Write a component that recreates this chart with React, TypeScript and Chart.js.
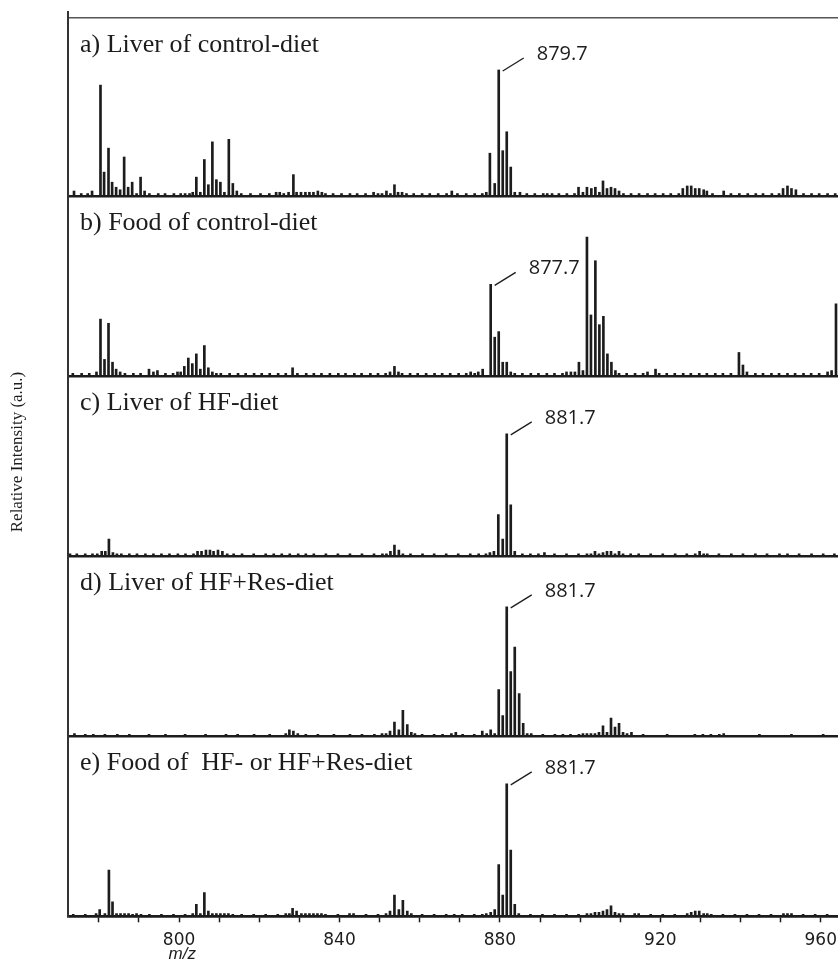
import { useEffect, useRef } from 'react';
import { Chart, registerables } from 'chart.js';
Chart.register(...registerables);

// ---------- data ----------
const panelTitles = [
  'a) Liver of control-diet',
  'b) Food of control-diet',
  'c) Liver of HF-diet',
  'd) Liver of HF+Res-diet',
  'e) Food of  HF- or HF+Res-diet',
];
const peakLabels = ['879.7', '877.7', '881.7', '881.7', '881.7'];
const peakMz = [879.7, 877.7, 881.7, 881.7, 881.7];
const xTickValues = [780, 790, 800, 810, 820, 830, 840, 850, 860, 870, 880, 890, 900, 910, 920, 930, 940, 950, 960];
const xLabelValues = [800, 840, 880, 920, 960];
// axis range per panel (relative intensity, base peak = 100)
const yMax = [146, 129.5, 147.2, 139.2, 136];
// value of the frame line at the top of panel a
const topFrameValue = 141.3;

const liverControl: [number, number][] = [
  [773.8, 4], [775.6, 2], [777.2, 2], [778.3, 4], [780.4, 88], [781.3, 19], [782.4, 38], [783.3, 11], [784.3, 7], [785.3, 5],
  [786.3, 31], [787.3, 7], [788.3, 11], [789.4, 2], [790.4, 15], [791.4, 4], [792.6, 2], [794.8, 2], [796.5, 2], [798.7, 2],
  [800.4, 2], [801.5, 2], [802.6, 2], [803.4, 3], [804.3, 15], [805.3, 3], [806.3, 29], [807.3, 9], [808.3, 43], [809.3, 13],
  [810.3, 11], [811.3, 3], [812.4, 45], [813.4, 10], [814.4, 4], [815.5, 2], [817.8, 2], [820.3, 2], [822.5, 2], [824.2, 3],
  [825.1, 3], [826.1, 2], [827.3, 3], [828.5, 17], [829.3, 3], [830.4, 3], [831.5, 3], [832.5, 3], [833.5, 3], [834.6, 4],
  [835.6, 3], [836.5, 2], [838.4, 2], [840.5, 2], [842.6, 2], [844.4, 2], [846.5, 2], [848.5, 3], [849.6, 2], [850.6, 2],
  [851.7, 4], [852.7, 2], [853.7, 9], [854.6, 3], [855.6, 3], [856.7, 2], [858.5, 2], [860.6, 2], [862.5, 2], [864.6, 2],
  [866.7, 2], [868.0, 4], [869.4, 2], [871.6, 2], [873.7, 2], [875.6, 2], [876.6, 3], [877.5, 34], [878.7, 10], [879.7, 100],
  [880.7, 36], [881.7, 51], [882.7, 23], [883.7, 3], [885.0, 3], [886.7, 2], [888.7, 2], [890.8, 2], [891.8, 2], [893.0, 2],
  [894.7, 2], [896.7, 2], [898.6, 2], [899.6, 7], [900.7, 3], [901.7, 7], [902.8, 6], [903.8, 7], [904.8, 3], [905.7, 12],
  [906.7, 6], [907.7, 7], [908.7, 6], [909.7, 4], [910.8, 2], [912.7, 2], [914.7, 2], [916.8, 2], [918.7, 2], [920.7, 2],
  [922.6, 2], [924.6, 2], [925.6, 6], [926.7, 8], [927.7, 8], [928.7, 6], [929.7, 6], [930.8, 5], [931.6, 4], [933.0, 2],
  [935.8, 4], [937.6, 2], [939.7, 2], [941.8, 2], [943.8, 2], [945.6, 2], [947.8, 2], [949.6, 2], [950.6, 6], [951.7, 8],
  [952.7, 6], [953.8, 5], [955.7, 2], [957.7, 2], [959.6, 2], [961.7, 2], [963.6, 2],
];

const foodControl: [number, number][] = [
  [773.5, 2], [775.7, 2], [777.6, 2], [779.4, 3], [780.4, 41], [781.4, 12], [782.4, 38], [783.4, 10], [784.3, 5], [785.3, 3],
  [786.5, 2], [788.6, 2], [790.4, 2], [792.5, 5], [793.6, 3], [794.6, 4], [796.6, 2], [798.5, 2], [799.6, 3], [800.4, 3],
  [801.3, 7], [802.3, 13], [803.3, 9], [804.3, 16], [805.3, 5], [806.3, 22], [807.3, 6], [808.3, 3], [809.3, 2], [810.4, 2],
  [812.6, 2], [814.7, 2], [816.6, 2], [818.7, 2], [820.6, 2], [822.6, 2], [824.7, 2], [826.6, 2], [828.3, 6], [829.5, 2],
  [831.7, 2], [833.6, 2], [835.5, 2], [837.6, 2], [839.7, 2], [841.5, 2], [843.7, 2], [845.5, 2], [847.7, 2], [849.6, 2],
  [851.5, 2], [852.6, 3], [853.7, 7], [854.7, 3], [855.6, 2], [857.6, 2], [859.5, 2], [861.6, 2], [863.7, 2], [865.6, 2],
  [867.6, 2], [869.7, 2], [871.6, 2], [872.7, 3], [873.7, 2], [874.6, 3], [875.7, 5], [877.7, 66], [878.7, 28], [879.7, 32],
  [880.7, 10], [881.7, 10], [882.7, 3], [883.7, 2], [885.6, 2], [887.7, 2], [889.6, 2], [891.7, 2], [893.6, 2], [895.6, 2],
  [896.6, 3], [897.7, 3], [898.7, 3], [899.7, 10], [900.7, 4], [901.7, 100], [902.7, 44], [903.8, 83], [904.8, 37], [905.8, 43],
  [906.8, 16], [907.8, 10], [908.8, 4], [909.7, 2], [911.6, 2], [913.7, 2], [915.7, 2], [916.8, 3], [918.8, 5], [919.7, 2],
  [921.6, 2], [923.6, 2], [925.7, 2], [927.6, 2], [929.7, 2], [931.6, 2], [933.7, 2], [935.6, 2], [937.6, 2], [939.6, 17],
  [940.6, 8], [941.6, 3], [943.7, 2], [945.6, 2], [947.7, 2], [949.6, 2], [951.7, 2], [953.6, 2], [955.7, 2], [957.6, 2],
  [959.6, 2], [961.7, 3], [962.7, 4], [963.8, 52],
];

const liverHF: [number, number][] = [
  [772.8, 2], [774.5, 2], [776.6, 2], [778.4, 2], [779.6, 2], [780.7, 4], [781.6, 4], [782.5, 14], [783.5, 3], [784.5, 2],
  [785.6, 2], [787.6, 2], [789.5, 2], [791.6, 2], [793.6, 2], [795.6, 2], [797.6, 2], [799.7, 2], [801.6, 2], [803.6, 2],
  [804.6, 4], [805.6, 4], [806.7, 5], [807.7, 5], [808.6, 4], [809.7, 5], [810.8, 4], [812.0, 2], [813.6, 2], [815.7, 2],
  [818.6, 2], [821.6, 2], [823.6, 2], [825.6, 2], [827.6, 2], [829.7, 2], [831.6, 2], [833.6, 2], [836.6, 2], [839.6, 2],
  [842.6, 2], [845.6, 2], [848.6, 2], [850.7, 2], [851.7, 2], [852.7, 4], [853.7, 9], [854.8, 5], [855.8, 2], [857.7, 2],
  [860.7, 2], [863.6, 2], [866.6, 2], [869.6, 2], [872.6, 2], [874.7, 2], [876.5, 2], [877.5, 3], [878.5, 4], [879.6, 34],
  [880.7, 14], [881.7, 100], [882.7, 42], [883.7, 4], [885.6, 2], [887.6, 2], [889.6, 2], [891.1, 3], [893.6, 2], [896.6, 2],
  [899.6, 2], [901.7, 2], [902.7, 2], [903.7, 4], [904.7, 2], [905.7, 3], [906.7, 4], [907.7, 4], [908.7, 2], [909.7, 4],
  [910.7, 2], [912.6, 2], [914.6, 2], [917.6, 2], [920.6, 2], [923.7, 2], [926.6, 2], [928.7, 2], [929.8, 4], [930.8, 2],
  [931.7, 2], [934.6, 2], [937.7, 2], [940.6, 2], [943.7, 2], [946.6, 2], [949.7, 2], [951.7, 2], [954.6, 2], [957.7, 2],
  [960.6, 2], [963.4, 2],
];

const liverHFRes: [number, number][] = [
  [773.9, 2], [776.6, 1.5], [778.6, 1.5], [781.5, 1.5], [784.6, 1.5], [787.6, 1.5], [792.5, 1.5], [796.6, 1.5], [801.5, 1.5], [806.6, 1.5],
  [811.7, 1.5], [814.6, 1.5], [818.7, 1.5], [822.6, 1.5], [826.6, 2], [827.5, 5], [828.5, 4], [829.6, 2], [831.6, 1.5], [834.6, 1.5],
  [838.6, 1.5], [842.6, 1.5], [845.6, 1.5], [848.7, 1.5], [850.6, 2], [851.6, 2], [852.6, 4], [853.7, 11], [854.8, 5], [855.8, 20],
  [856.9, 9], [857.9, 3], [858.8, 2], [860.6, 1.5], [863.6, 1.5], [865.7, 1.5], [867.9, 2], [869.0, 3], [870.7, 1.5], [873.6, 1.5],
  [875.6, 4], [876.7, 2], [877.7, 5], [878.7, 2], [879.7, 36], [880.7, 16], [881.7, 100], [882.7, 50], [883.7, 69], [884.8, 33],
  [885.8, 10], [886.8, 2], [887.8, 2], [890.7, 1.5], [893.7, 1.5], [895.7, 1.5], [897.6, 1.5], [899.7, 1.5], [900.7, 2], [901.7, 2],
  [902.7, 2], [903.7, 2], [904.7, 3], [905.7, 8], [906.7, 3], [907.7, 14], [908.7, 7], [909.7, 10], [910.7, 3], [911.7, 2],
  [912.8, 3], [915.7, 1.5], [921.7, 1.5], [928.6, 1.5], [930.6, 1.5], [932.6, 1.5], [934.7, 1.5], [935.8, 2], [944.7, 1.5], [952.7, 1.5],
  [960.6, 1.5],
];

const foodHF: [number, number][] = [
  [773.6, 1.5], [776.6, 1.5], [779.3, 2], [780.2, 5], [781.5, 2], [782.5, 35], [783.4, 11], [784.4, 2], [785.4, 2], [786.4, 2],
  [787.4, 2], [788.4, 1.5], [789.4, 2], [790.5, 1.5], [792.6, 1.5], [795.6, 1.5], [798.6, 1.5], [801.5, 1.5], [803.4, 2], [804.3, 9],
  [805.3, 2], [806.3, 18], [807.3, 4], [808.3, 2], [809.3, 2], [810.3, 2], [811.3, 2], [812.3, 2], [813.4, 1.5], [815.6, 1.5],
  [818.6, 1.5], [821.6, 1.5], [824.6, 1.5], [826.6, 2], [827.5, 2], [828.3, 6], [829.3, 4], [830.5, 2], [831.5, 2], [832.5, 2],
  [833.5, 2], [834.5, 2], [835.5, 2], [836.5, 1.5], [839.6, 1.5], [842.5, 2], [843.5, 2], [846.6, 1.5], [849.6, 1.5], [851.6, 2],
  [852.6, 4], [853.7, 16], [854.8, 5], [855.8, 12], [856.9, 4], [857.9, 2], [860.6, 1.5], [863.6, 1.5], [866.6, 1.5], [868.6, 1.5],
  [870.6, 1.5], [873.6, 1.5], [875.6, 1.5], [876.6, 2], [877.7, 3], [878.7, 5], [879.7, 39], [880.7, 16], [881.7, 100], [882.7, 50],
  [883.7, 9], [884.7, 2], [887.6, 1.5], [890.6, 1.5], [893.6, 1.5], [896.6, 1.5], [899.6, 1.5], [901.7, 2], [902.7, 2], [903.7, 3],
  [904.7, 3], [905.7, 4], [906.7, 5], [907.7, 8], [908.7, 3], [909.7, 2], [910.7, 2], [913.6, 2], [914.6, 2], [917.6, 1.5],
  [920.6, 1.5], [923.6, 1.5], [926.7, 2], [927.7, 3], [928.7, 4], [929.7, 4], [930.8, 2], [931.7, 2], [932.7, 1.5], [935.6, 1.5],
  [938.6, 1.5], [941.6, 1.5], [944.6, 1.5], [947.6, 1.5], [950.7, 2], [951.7, 2], [952.7, 2], [955.6, 1.5], [958.6, 1.5], [961.6, 1.5],
];

const spectra = [liverControl, foodControl, liverHF, liverHFRes, foodHF];

// ---------- component ----------
export default function App() {
  const canvasRef = useRef<HTMLCanvasElement | null>(null);

  useEffect(() => {
    const canvas = canvasRef.current;
    if (!canvas) return;

    const ink = '#1c1c1c';

    const overlay = {
      id: 'spectraOverlay',
      afterDatasetsDraw(chart: any) {
        const { ctx, chartArea } = chart;
        const xs = chart.scales.x;
        ctx.save();
        spectra.forEach((data, i) => {
          const ys = chart.scales['y' + i];
          const panelTop = i === 0 ? ys.getPixelForValue(topFrameValue) : ys.top;
          ctx.fillStyle = ink;
          ctx.textAlign = 'left';
          ctx.textBaseline = 'alphabetic';
          ctx.font = "26px 'Liberation Serif'";
          ctx.fillText(panelTitles[i], chartArea.left + 12, panelTop + 34);

          const pk = data.find((d) => d[0] === peakMz[i]);
          const v = pk ? pk[1] : 100;
          const px = xs.getPixelForValue(peakMz[i]);
          const py = ys.getPixelForValue(v);
          ctx.strokeStyle = ink;
          ctx.lineWidth = 1.3;
          ctx.beginPath();
          ctx.moveTo(px + 4, py + 1);
          ctx.lineTo(px + 25, py - 12);
          ctx.stroke();
          ctx.font = "20px 'Open Sans'";
          ctx.textBaseline = 'middle';
          ctx.fillText(peakLabels[i], px + 38, py - 16);
        });

        ctx.font = "italic 17px 'Liberation Sans'";
        ctx.textAlign = 'center';
        ctx.textBaseline = 'middle';
        ctx.fillStyle = ink;
        ctx.fillText('m/z', xs.getPixelForValue(800.8), 954);

        ctx.translate(18, 452);
        ctx.rotate(-Math.PI / 2);
        ctx.font = "17px 'Liberation Serif'";
        ctx.fillText('Relative Intensity (a.u.)', 0, 0);
        ctx.restore();
      },
    };

    const scales: any = {
      x: {
        type: 'linear',
        position: 'bottom',
        min: 772.3,
        max: 964.3,
        offset: false,
        afterBuildTicks: (axis: any) => {
          axis.ticks = xTickValues.map((v) => ({ value: v }));
        },
        ticks: {
          autoSkip: false,
          maxRotation: 0,
          padding: 0,
          color: ink,
          font: { family: 'DejaVu Sans', size: 17, lineHeight: 2.1 },
          callback: (v: any) => (xLabelValues.includes(Number(v)) ? String(v) : ''),
        },
        grid: {
          display: true,
          offset: false,
          drawOnChartArea: false,
          drawTicks: true,
          tickLength: 6,
          tickWidth: 1.5,
          tickColor: ink,
        },
        border: { display: true, color: ink, width: 2.5 },
      },
    };

    // stacked left axes: the last one defined is placed on top, so define bottom panel first
    for (let i = spectra.length - 1; i >= 0; i--) {
      const frameTop = i === 0 ? topFrameValue : yMax[i];
      scales['y' + i] = {
        type: 'linear',
        position: 'left',
        stack: 'spectra',
        stackWeight: i === 0 ? 184 : 180,
        min: 0,
        max: yMax[i],
        afterBuildTicks: (axis: any) => {
          axis.ticks = [{ value: 0 }, { value: frameTop }];
        },
        ticks: { display: false },
        grid: {
          drawTicks: false,
          color: (c: any) => (c.tick && c.tick.value === 0 ? ink : i === 0 ? '#555' : 'rgba(0,0,0,0)'),
          lineWidth: (c: any) => (c.tick && c.tick.value === 0 ? 2.5 : 1.5),
        },
        border: { display: true, color: '#333', width: 2 },
      };
    }

    const chart = new Chart(canvas, {
      type: 'bar',
      data: {
        datasets: spectra.map((data, i) => ({
          label: panelTitles[i],
          data: data.map(([x, y]) => ({ x, y })),
          yAxisID: 'y' + i,
          backgroundColor: ink,
          borderWidth: 0,
          barThickness: 2,
          grouped: false,
        })),
      } as any,
      options: {
        responsive: false,
        animation: false,
        devicePixelRatio: 1,
        layout: { padding: { top: 12, left: 68, right: 0, bottom: 11 } },
        plugins: { legend: { display: false }, tooltip: { enabled: false }, title: { display: false } },
        scales,
      } as any,
      plugins: [overlay],
    });

    return () => chart.destroy();
  }, []);

  return (
    <div style={{ position: 'absolute', left: 0, top: 0, width: 838, height: 969, background: '#fff' }}>
      <canvas ref={canvasRef} width={838} height={969} style={{ display: 'block' }} />
    </div>
  );
}
